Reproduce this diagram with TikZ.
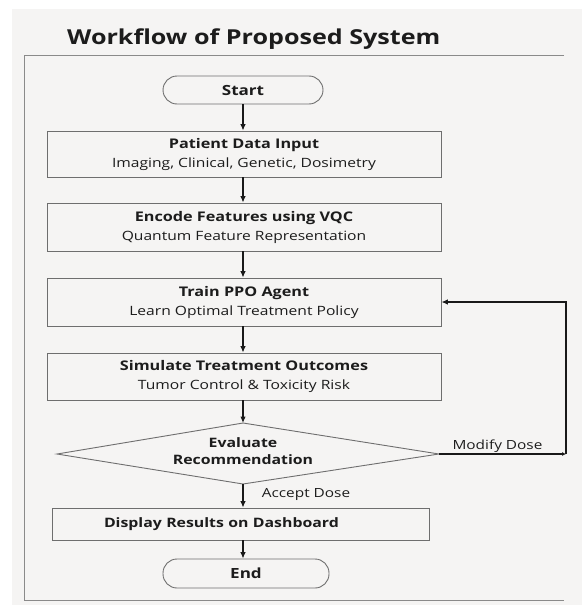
\documentclass[tikz,border=0pt]{standalone}
\usepackage{fontspec}
\setmainfont{Open Sans}[FakeStretch=1.22]
\usetikzlibrary{arrows.meta}
\definecolor{bgc}{HTML}{F5F4F3}
\definecolor{boxc}{HTML}{6E6E6E}
\definecolor{txt}{HTML}{1C1C1C}
\definecolor{framec}{HTML}{8A8A8A}
\tikzset{
  procbox/.style={draw=boxc, fill=bgc, line width=0.9pt, minimum width=394pt, inner sep=0pt, align=center, text=txt, font=\fontsize{12.8}{19}\selectfont},
  termbox/.style={draw=boxc, fill=bgc, line width=0.9pt, rounded corners=14pt, inner sep=0pt, text=txt, font=\bfseries\fontsize{14}{16}\selectfont},
  flowarr/.style={draw=black!90, line width=1.1pt, -{Latex[length=6.5pt,width=5.5pt]}},
  lbl/.style={text=txt, font=\fontsize{12.6}{15}\selectfont, inner sep=0pt},
}
\begin{document}
\begin{tikzpicture}[x=1pt,y=-1pt]
\useasboundingbox (0,0) rectangle (582,605);
\fill[bgc] (12,9) rectangle (582,605);
\draw[framec, line width=0.9pt] (564,55) -- (24,55) -- (24,600) -- (564,600);
\node[text=txt, font=\bfseries\fontsize{20.6}{24}\selectfont, anchor=base west, inner sep=0pt] (title) at (67,44) {Workflow of Proposed System};

\node[termbox, minimum width=160pt, minimum height=28pt] (start) at (243,90) {Start};
\node[procbox, minimum height=46pt] (patient) at (244,154) {{\fontsize{13.3}{19}\selectfont\bfseries Patient Data Input}\\Imaging, Clinical, Genetic, Dosimetry};
\node[procbox, minimum height=48pt] (encode) at (244,227) {{\fontsize{13.3}{19}\selectfont\bfseries Encode Features using VQC}\\Quantum Feature Representation};
\node[procbox, minimum height=48pt] (train) at (244,302) {{\fontsize{13.3}{19}\selectfont\bfseries Train PPO Agent}\\Learn Optimal Treatment Policy};
\node[procbox, minimum height=47pt] (sim) at (244,376.5) {{\fontsize{13.3}{19}\selectfont\bfseries Simulate Treatment Outcomes}\\Tumor Control \& Toxicity Risk};

\coordinate (dt) at (243,423);
\coordinate (dr) at (439,454);
\coordinate (db) at (243,484);
\coordinate (dl) at (57,454);
\draw[draw=boxc, fill=bgc, line width=0.9pt] (dt) -- (dr) -- (db) -- (dl) -- cycle;
\node[text=txt, align=center, font=\bfseries\fontsize{13}{17}\selectfont, inner sep=0pt] (dia) at (243,451.5) {Evaluate\\Recommendation};

\node[procbox, minimum width=377pt, minimum height=32pt, font=\bfseries\fontsize{13}{15}\selectfont, text width=377pt, align=left] (disp) at (240.5,524) {\hspace*{52pt}Display Results on Dashboard};
\node[termbox, minimum width=166pt, minimum height=29pt] (end) at (246,573.5) {End};

\coordinate (fb) at (566,454);
\draw[flowarr] (start.south -| 243,0) -- (patient.north -| 243,0);
\draw[flowarr] (patient.south -| 243,0) -- (encode.north -| 243,0);
\draw[flowarr] (encode.south -| 243,0) -- (train.north -| 243,0);
\draw[flowarr] (train.south -| 243,0) -- (sim.north -| 243,0);
\draw[flowarr] (sim.south -| 243,0) -- (dt);
\draw[flowarr] (db) -- (disp.north -| 243,0);
\draw[flowarr] (disp.south -| 243,0) -- (end.north -| 243,0);
\draw[draw=black!90, line width=1.1pt, -{Latex[length=4pt,width=4pt]}] (dr) -- (fb);
\draw[flowarr] (fb) |- (train.east);

\node[lbl] (modify) at (497.5,446) {Modify Dose};
\node[lbl] (accept) at (306,494) {Accept Dose};
\end{tikzpicture}
\end{document}
